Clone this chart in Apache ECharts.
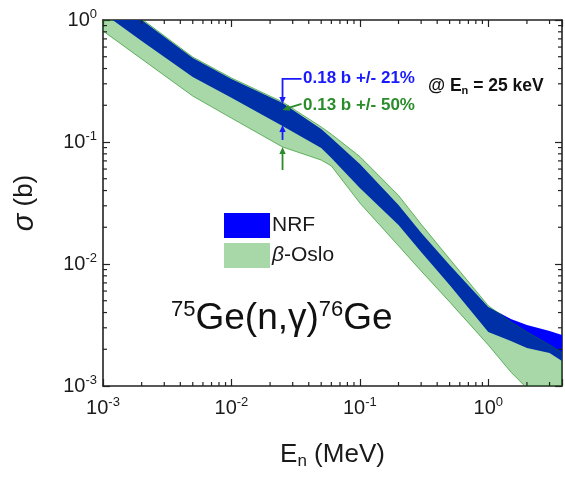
<!DOCTYPE html>
<html><head><meta charset="utf-8">
<script src="https://cdn.jsdelivr.net/npm/echarts@6/dist/echarts.min.js"></script>
<style>html,body{margin:0;padding:0;background:#fff}#c{width:565px;height:477px}</style>
</head><body><div id="c"></div>
<script>
// ---- data (E in MeV, sigma in barn) ----
const energyMeV = [0.001, 0.002, 0.005, 0.01, 0.025, 0.05, 0.06, 0.1, 0.2, 0.3, 0.5, 1.0, 1.5, 2.0, 3.0, 4.0];
const nrfUpper  = [1.73, 1.0, 0.488, 0.328, 0.209, 0.128, 0.108, 0.066, 0.0305, 0.0180, 0.0098, 0.00444, 0.00354, 0.00316, 0.00282, 0.00257];
const nrfLower  = [1.14, 0.673, 0.341, 0.230, 0.135, 0.0893, 0.0740, 0.0420, 0.0209, 0.01253, 0.00673, 0.00277, 0.00234, 0.00205, 0.00186, 0.00154];
const osloUpper = [1.76, 1.02, 0.497, 0.335, 0.213, 0.133, 0.116, 0.0760, 0.0365, 0.0212, 0.0110, 0.00455, 0.00335, 0.00277, 0.00217, 0.00180];
const osloLower = [0.813, 0.479, 0.238, 0.157, 0.091, 0.0711, 0.0636, 0.0316, 0.0141, 0.00877, 0.00489, 0.00217, 0.0013, 0.00096, 0.00060, 0.00044];
const xRange = [0.001, 3.75];
const yRange = [0.001, 1];
const minorMultipliers = [2, 3, 4, 5, 6, 7, 8, 9];
// annotation at En = 25 keV
const annEnergy = 0.025;
const annNrfHi = 0.205, annNrfLo = 0.138, annOsloHi = 0.183, annOsloLo = 0.091;
const seriesNames = ['NRF', 'β-Oslo'];

const L = Math.log10;
const FONT = '"Liberation Sans", Arial, Helvetica, sans-serif';
const xMinL = L(xRange[0]), xMaxL = L(xRange[1]), yMinL = L(yRange[0]), yMaxL = L(yRange[1]);

function bandSeries(name, upper, lower, fill, stroke, z) {
  return {
    type: 'custom', name: name, clip: true, z: z,
    itemStyle: { color: fill },
    data: [[0, 0]],
    renderItem: function (params, api) {
      const pts = [];
      for (let i = 0; i < energyMeV.length; i++) pts.push(api.coord([L(energyMeV[i]), L(upper[i])]));
      for (let i = energyMeV.length - 1; i >= 0; i--) pts.push(api.coord([L(energyMeV[i]), L(lower[i])]));
      return { type: 'polygon', shape: { points: pts }, style: { fill: fill, stroke: stroke, lineWidth: stroke ? 1 : 0 } };
    }
  };
}

// minor tick data
const minorData = [];
for (let e = Math.floor(xMinL); e <= Math.ceil(xMaxL); e++) minorMultipliers.forEach(m => { const v = L(m) + e; if (v > xMinL && v < xMaxL) minorData.push([v, 0]); });
for (let e = Math.floor(yMinL); e <= Math.ceil(yMaxL); e++) minorMultipliers.forEach(m => { const v = L(m) + e; if (v > yMinL && v < yMaxL) minorData.push([v, 1]); });

const tickColor = '#222';
const minorSeries = {
  type: 'custom', silent: true, z: 10,
  data: minorData,
  renderItem: function (params, api) {
    const cs = params.coordSys;
    const v = api.value(0), axis = api.value(1), len = 4;
    const ls = { stroke: tickColor, lineWidth: 1.2 };
    if (axis === 0) {
      const p = api.coord([v, yMinL]);
      return { type: 'group', children: [
        { type: 'line', shape: { x1: p[0], y1: cs.y + cs.height, x2: p[0], y2: cs.y + cs.height - len }, style: ls },
        { type: 'line', shape: { x1: p[0], y1: cs.y, x2: p[0], y2: cs.y + len }, style: ls }
      ]};
    } else {
      const p = api.coord([xMinL, v]);
      return { type: 'group', children: [
        { type: 'line', shape: { x1: cs.x, y1: p[1], x2: cs.x + len, y2: p[1] }, style: ls },
        { type: 'line', shape: { x1: cs.x + cs.width, y1: p[1], x2: cs.x + cs.width - len, y2: p[1] }, style: ls }
      ]};
    }
  }
};

function head(tip, dx, dy, color) {
  const n = Math.hypot(dx, dy), ux = dx / n, uy = dy / n, len = 7, w = 3.2;
  const bx = tip[0] - ux * len, by = tip[1] - uy * len;
  return { type: 'polygon', shape: { points: [tip, [bx - uy * w, by + ux * w], [bx + uy * w, by - ux * w]] }, style: { fill: color } };
}
const BLUE = '#1a1aff', GREEN = '#2a8c2a';
const arrowSeries = {
  type: 'custom', silent: true, z: 20, clip: false,
  data: [[0, 0]],
  renderItem: function (params, api) {
    const a = api.coord([L(annEnergy), L(annNrfHi)]);
    const b = api.coord([L(annEnergy), L(annNrfLo)]);
    const c = api.coord([L(annEnergy), L(annOsloHi)]);
    const d = api.coord([L(annEnergy), L(annOsloLo)]);
    const ls = (col) => ({ stroke: col, lineWidth: 1.8, fill: null });
    return { type: 'group', children: [
      { type: 'polyline', shape: { points: [[a[0] + 19, a[1] - 25], [a[0], a[1] - 25], [a[0], a[1] - 6]] }, style: ls(BLUE) },
      head(a, 0, 1, BLUE),
      { type: 'line', shape: { x1: b[0], y1: b[1] + 15, x2: b[0], y2: b[1] + 6 }, style: ls(BLUE) },
      head(b, 0, -1, BLUE),
      { type: 'line', shape: { x1: c[0] + 19, y1: c[1] - 6, x2: c[0] + 6, y2: c[1] - 2 }, style: ls(GREEN) },
      head(c, -17, 5.5, GREEN),
      { type: 'line', shape: { x1: d[0], y1: d[1] + 23, x2: d[0], y2: d[1] + 6 }, style: ls(GREEN) },
      head(d, 0, -1, GREEN)
    ]};
  }
};

const labelRich = {
  b: { fontSize: 20, lineHeight: 24, fontFamily: FONT, color: '#1a1a1a' },
  s: { fontSize: 13, lineHeight: 6, verticalAlign: 'top', fontFamily: FONT, color: '#1a1a1a' }
};
function expLabel(v) {
  const e = Math.round(v);
  if (Math.abs(v - e) > 1e-6) return '';
  return '{b|10}{s|' + e + '}';
}
const axisLineStyle = { show: true, onZero: false, lineStyle: { color: tickColor, width: 1.6 } };
const majorTick = { show: true, inside: true, length: 7, lineStyle: { color: tickColor, width: 1.2 } };

const option = {
  animation: false,
  backgroundColor: '#fff',
  grid: { left: 103, top: 20, right: 1, bottom: 91 },
  xAxis: [
    { type: 'value', min: xMinL, max: xMaxL, interval: 1, position: 'bottom',
      axisLine: axisLineStyle, axisTick: majorTick, splitLine: { show: false },
      axisLabel: { formatter: expLabel, rich: labelRich, margin: 10 },
      name: '{a|E}{s|n}{a| (MeV)}', nameLocation: 'middle', nameGap: 54,
      nameTextStyle: { rich: {
        a: { fontSize: 26, lineHeight: 30, fontFamily: FONT, color: '#1a1a1a' },
        s: { fontSize: 17, lineHeight: 4, verticalAlign: 'bottom', fontFamily: FONT, color: '#1a1a1a' } } } },
    { type: 'value', min: xMinL, max: xMaxL, interval: 1, position: 'top',
      axisLine: axisLineStyle, axisTick: majorTick, splitLine: { show: false }, axisLabel: { show: false } }
  ],
  yAxis: [
    { type: 'value', min: yMinL, max: yMaxL, interval: 1, position: 'left',
      axisLine: axisLineStyle, axisTick: majorTick, splitLine: { show: false },
      axisLabel: { formatter: expLabel, rich: labelRich, margin: 6 },
      name: '{i|σ}{a| (b)}', nameLocation: 'middle', nameGap: 64, nameRotate: 90,
      nameTextStyle: { rich: {
        i: { fontSize: 29, fontStyle: 'italic', fontFamily: FONT, color: '#1a1a1a' },
        a: { fontSize: 26, fontFamily: FONT, color: '#1a1a1a' } } } },
    { type: 'value', min: yMinL, max: yMaxL, interval: 1, position: 'right',
      axisLine: axisLineStyle, axisTick: majorTick, splitLine: { show: false }, axisLabel: { show: false } }
  ],
  legend: {
    data: seriesNames, orient: 'vertical', left: 219, top: 208,
    itemWidth: 46, itemHeight: 25, itemGap: 5, icon: 'rect',
    itemStyle: { borderWidth: 0 },
    formatter: function (n) { return n === 'β-Oslo' ? '{i|β}{n|-Oslo}' : '{n|' + n + '}'; },
    textStyle: { padding: [0, 0, 0, -3], rich: {
      n: { fontSize: 21, fontFamily: FONT, color: '#1a1a1a' },
      i: { fontSize: 21, fontStyle: 'italic', fontFamily: FONT, color: '#1a1a1a' } } }
  },
  graphic: [
    { type: 'text', x: 171, y: 319, style: {
        text: '{s|75}{m|Ge(n,γ)}{s|76}{m|Ge}', verticalAlign: 'middle',
        rich: {
          m: { fontSize: 37, lineHeight: 40, fontFamily: FONT, fill: '#111' },
          s: { fontSize: 22, lineHeight: 12, verticalAlign: 'top', fontFamily: FONT, fill: '#111' } } } },
    { type: 'text', x: 303, y: 78, style: { text: '0.18 b +/- 21%', font: 'bold 17px ' + FONT, fill: BLUE, verticalAlign: 'middle' } },
    { type: 'text', x: 303, y: 105, style: { text: '0.13 b +/- 50%', font: 'bold 17px ' + FONT, fill: GREEN, verticalAlign: 'middle' } },
    { type: 'text', x: 428, y: 86, style: {
        text: '{b|@ E}{s|n}{b| = 25 keV}', verticalAlign: 'middle',
        rich: {
          b: { fontSize: 17.5, fontWeight: 'bold', lineHeight: 20, fontFamily: FONT, fill: '#111' },
          s: { fontSize: 11, fontWeight: 'bold', lineHeight: 4, verticalAlign: 'bottom', fontFamily: FONT, fill: '#111' } } } }
  ],
  series: [
    bandSeries(seriesNames[0], nrfUpper, nrfLower, '#0000ff', null, 2),
    bandSeries(seriesNames[1], osloUpper, osloLower, 'rgba(0,140,0,0.34)', 'rgba(0,130,0,0.55)', 3),
    minorSeries,
    arrowSeries
  ]
};
const chart = echarts.init(document.getElementById('c'), null, { renderer: 'canvas' });
chart.setOption(option);
</script></body></html>
